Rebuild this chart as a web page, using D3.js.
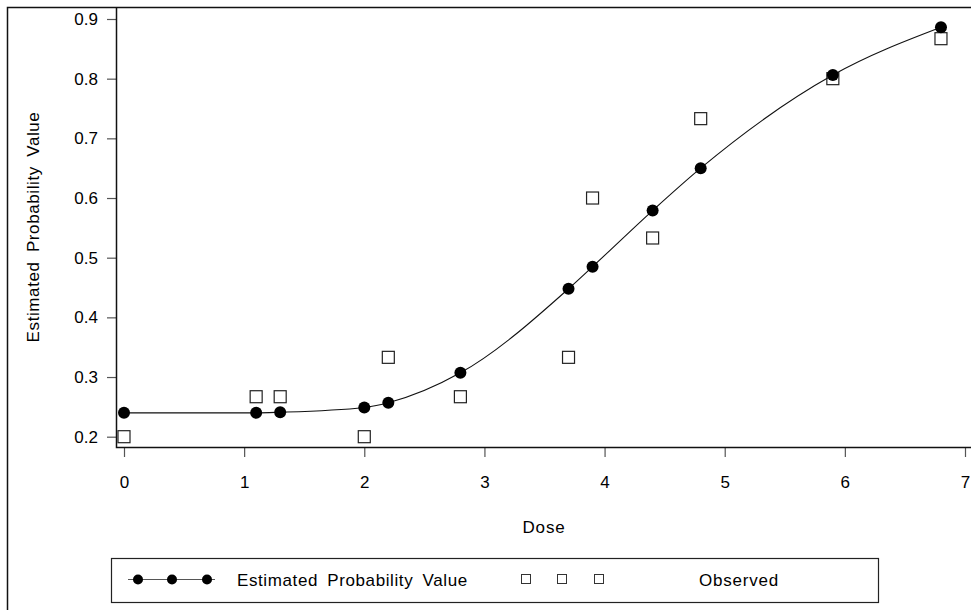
<!DOCTYPE html>
<html>
<head>
<meta charset="utf-8">
<script src="https://cdn.jsdelivr.net/npm/d3@7"></script>
<style>
  body { margin: 0; background: #fff; }
  text { font-family: "Liberation Sans", Arial, Helvetica, sans-serif; fill: #000; }
</style>
</head>
<body>
<div id="chart"></div>
<script>
var doses = [0, 1.1, 1.3, 2.0, 2.2, 2.8, 3.7, 3.9, 4.4, 4.8, 5.9, 6.8];
var estimated = [0.240, 0.240, 0.241, 0.249, 0.257, 0.307, 0.448, 0.485, 0.579, 0.650, 0.806, 0.886];
var observed = [0.200, 0.267, 0.267, 0.200, 0.333, 0.267, 0.333, 0.600, 0.533, 0.733, 0.800, 0.867];
var xTicks = [0, 1, 2, 3, 4, 5, 6, 7];
var yTicks = [0.2, 0.3, 0.4, 0.5, 0.6, 0.7, 0.8, 0.9];
var legendLabels = ['Estimated Probability Value', 'Observed'];

var width = 971, height = 610;
var plotLeft = 116, plotTop = 7, plotBottom = 447;

var svg = d3.select('#chart')
	.append('svg')
	.attr('width', width)
	.attr('height', height);

var x = d3.scaleLinear().domain([0, 7]).range([124, 965]);
var y = d3.scaleLinear().domain([0.2, 0.9]).range([436.7, 19]);

// outer frame (left + top)
svg.append('path')
	.attr('d', 'M7.5,' + height + 'V7.5H' + width)
	.attr('fill', 'none')
	.attr('stroke', '#111')
	.attr('stroke-width', 1.5);

// axes
var yAxis = svg.append('g')
	.attr('transform', 'translate(' + plotLeft + ',0)')
	.call(d3.axisLeft(y).tickValues(yTicks).tickFormat(d3.format('.1f')).tickSize(9).tickPadding(9));
var xAxis = svg.append('g')
	.attr('transform', 'translate(0,' + plotBottom + ')')
	.call(d3.axisBottom(x).tickValues(xTicks).tickFormat(d3.format('d')).tickSize(10).tickPadding(19));

[xAxis, yAxis].forEach(function(g) {
	g.select('.domain').remove();
	g.selectAll('.tick line').attr('stroke', '#555').attr('stroke-width', 1.2);
	g.selectAll('.tick text')
		.attr('font-family', '"Liberation Sans", Arial, sans-serif')
		.attr('font-size', '17px')
		.attr('fill', '#000');
});

svg.append('path')
	.attr('d', 'M' + (plotLeft + 0.5) + ',' + plotTop + 'V' + (plotBottom + 0.5) + 'H' + width)
	.attr('fill', 'none')
	.attr('stroke', '#111')
	.attr('stroke-width', 1.5);

// axis titles
svg.append('text')
	.text('Dose')
	.attr('x', 544)
	.attr('y', 533)
	.attr('text-anchor', 'middle')
	.attr('font-size', '17px')
	.attr('letter-spacing', '0.8px');

svg.append('text')
	.text('Estimated Probability Value')
	.attr('transform', 'translate(39,' + ((plotTop + plotBottom) / 2) + ') rotate(-90)')
	.attr('text-anchor', 'middle')
	.attr('font-size', '17px')
	.attr('letter-spacing', '0.6px')
	.attr('word-spacing', '4px');

var pts = doses.map(function(d, i) {
	return { dose: d, est: estimated[i], obs: observed[i] };
});

// observed squares
var sq = 12;
svg.append('g').selectAll('rect')
	.data(pts)
	.enter().append('rect')
	.attr('x', function(d) { return x(d.dose) - sq / 2; })
	.attr('y', function(d) { return y(d.obs) - sq / 2; })
	.attr('width', sq)
	.attr('height', sq)
	.attr('fill', '#fff')
	.attr('stroke', '#222')
	.attr('stroke-width', 1.2);

// fitted curve through estimated points
var line = d3.line()
	.x(function(d) { return x(d.dose); })
	.y(function(d) { return y(d.est); })
	.curve(d3.curveMonotoneX);

svg.append('path')
	.datum(pts)
	.attr('d', line)
	.attr('fill', 'none')
	.attr('stroke', '#111')
	.attr('stroke-width', 1.1);

svg.append('g').selectAll('circle')
	.data(pts)
	.enter().append('circle')
	.attr('cx', function(d) { return x(d.dose); })
	.attr('cy', function(d) { return y(d.est); })
	.attr('r', 6)
	.attr('fill', '#000');

// legend
var legend = svg.append('g');
legend.append('rect')
	.attr('x', 111.5)
	.attr('y', 558.5)
	.attr('width', 767)
	.attr('height', 44)
	.attr('fill', '#fff')
	.attr('stroke', '#222')
	.attr('stroke-width', 1.2);

var ly = 579.5;
legend.append('line')
	.attr('x1', 128).attr('x2', 215)
	.attr('y1', ly).attr('y2', ly)
	.attr('stroke', '#555')
	.attr('stroke-width', 1.2);
legend.selectAll('circle')
	.data([138, 172, 207])
	.enter().append('circle')
	.attr('cx', function(d) { return d; })
	.attr('cy', ly)
	.attr('r', 5)
	.attr('fill', '#000');
legend.selectAll('rect.sym')
	.data([526, 562, 599])
	.enter().append('rect')
	.attr('class', 'sym')
	.attr('x', function(d) { return d - 4.5; })
	.attr('y', ly - 5)
	.attr('width', 9)
	.attr('height', 9)
	.attr('fill', '#fff')
	.attr('stroke', '#333')
	.attr('stroke-width', 1);

legend.append('text')
	.text(legendLabels[0])
	.attr('x', 237)
	.attr('y', ly + 6)
	.attr('font-size', '17px')
	.attr('letter-spacing', '0.6px')
	.attr('word-spacing', '4px');
legend.append('text')
	.text(legendLabels[1])
	.attr('x', 699)
	.attr('y', ly + 6)
	.attr('font-size', '17px')
	.attr('letter-spacing', '0.8px');
</script>
</body>
</html>
